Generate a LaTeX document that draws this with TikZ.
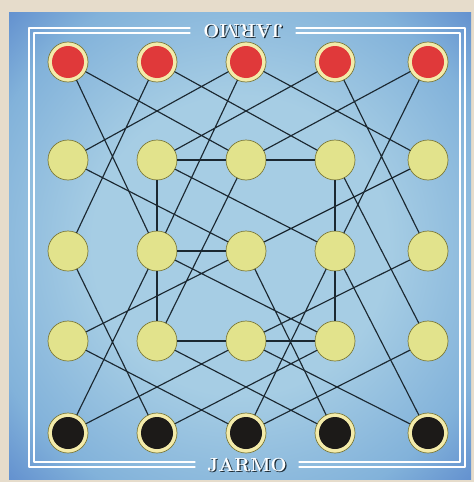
\documentclass[tikz,border=0pt]{standalone}
\usepackage{tikz}
\usetikzlibrary{positioning,calc}
\definecolor{paper}{HTML}{E6DCCB}
\definecolor{skyin}{HTML}{A6CDE4}
\definecolor{skymid}{HTML}{82B2DA}
\definecolor{skyout}{HTML}{3F6AC2}
\definecolor{rim}{HTML}{7C7A3A}
\definecolor{pale}{HTML}{E2E38C}
\definecolor{cream}{HTML}{F3EBAA}
\definecolor{redpiece}{HTML}{E0393A}
\definecolor{blackpiece}{HTML}{1C1A18}
\definecolor{ink}{HTML}{1B2831}
\pgfdeclareradialshading{sky}{\pgfpoint{0bp}{0bp}}{color(0bp)=(skyin);
  color(16bp)=(skyin); color(29bp)=(skymid); color(43bp)=(skyout); color(50bp)=(skyout)}
\tikzset{
    point/.style={circle,draw=rim,fill=pale,line width=0.7pt,
      minimum size=40pt,inner sep=0pt,outer sep=0.3pt},
    redpoint/.style={point,fill=cream,
      path picture={\fill[redpiece] (path picture bounding box.center) circle (16pt);}},
    blackpoint/.style={point,fill=cream,
      path picture={\fill[blackpiece] (path picture bounding box.center) circle (16pt);}},
    link/.style={draw=ink,line width=1.15pt},
    frameline/.style={draw=white,line width=1.2pt},
    title/.style={font=\fontsize{19}{19}\selectfont\bfseries,text=white,inner sep=1pt},
    titleshadow/.style={title,text=ink}
}
\begin{document}
\begin{tikzpicture}[x=1pt,y=-1pt,line cap=round,line join=round]
  \useasboundingbox (0,0) rectangle (474,482);
  \fill[paper] (0,0) rectangle (474,482);
  \shade[shading=sky] (9,12) rectangle (471,479);
  \draw[frameline] (190,28) -| (29,467) -- (195,467);
  \draw[frameline] (296,28) -| (465,467) -- (299,467);
  \draw[frameline] (190,33) -| (34,462) -- (195,462);
  \draw[frameline] (296,33) -| (460,462) -- (299,462);
  \node[titleshadow,rotate=180] (topshadow) at (244.2,31.8) {JARMO};
  \node[title,rotate=180] (toptitle) at (243,30.6) {JARMO};
  \node[titleshadow] (bottomshadow) at (248.2,465.8) {JARMO};
  \node[title] (bottomtitle) at (247,464.6) {JARMO};
  \foreach \c/\x in {a/68,b/157,c/246,d/335,e/428}{
    \node[redpoint] (\c5) at (\x,62) {};
    \node[point] (\c4) at (\x,160) {};
    \node[point] (\c3) at (\x,251) {};
    \node[point] (\c2) at (\x,341) {};
    \node[blackpoint] (\c1) at (\x,433) {};
  }
  \draw[link] (a5)--(c4) (a5)--(b3) (b5)--(a3) (b5)--(d4)
    (c5)--(a4) (c5)--(b3) (c5)--(e4) (d5)--(b4) (d5)--(e3)
    (e5)--(c4) (e5)--(d3);
  \draw[link] (a4)--(c3) (b4)--(d3) (c4)--(b2) (d4)--(e2) (e4)--(c3)
    (a3)--(b1) (b3)--(d2) (b3)--(a1) (c3)--(a2) (c3)--(d1)
    (d3)--(c1) (d3)--(e1) (e3)--(c2);
  \draw[link] (a2)--(c1) (b2)--(d1) (c2)--(a1) (c2)--(e1)
    (d2)--(b1) (e2)--(c1);
  \draw[link] (b4)--(c4) (c4)--(d4) (b3)--(c3) (b2)--(c2) (c2)--(d2)
    (b4)--(b3) (b3)--(b2) (d4)--(d3) (d3)--(d2);
\end{tikzpicture}
\end{document}
